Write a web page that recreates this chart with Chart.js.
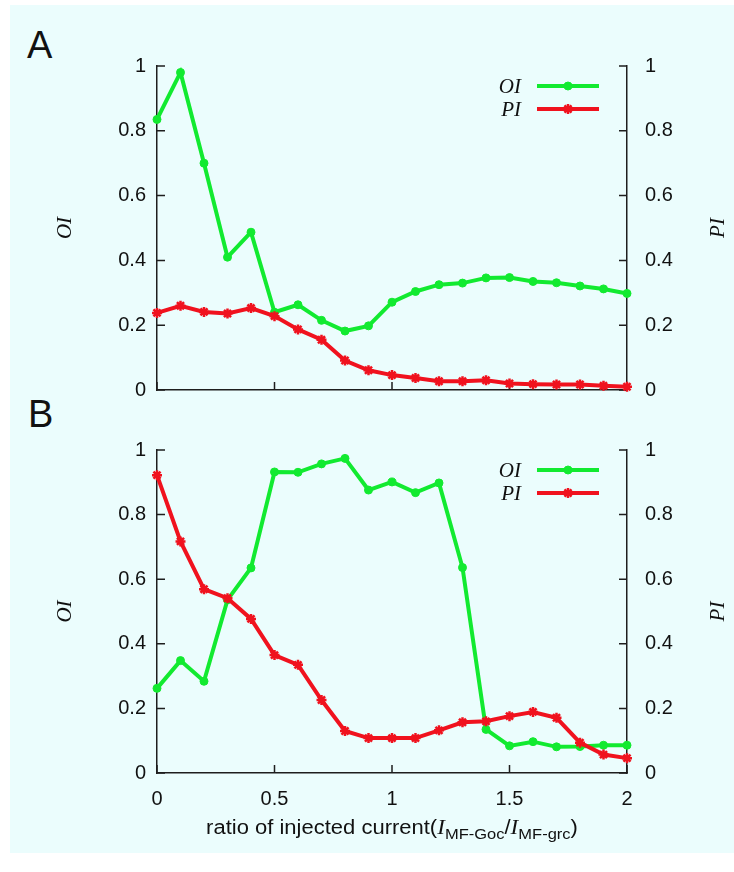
<!DOCTYPE html>
<html>
<head>
<meta charset="utf-8">
<script src="https://cdn.jsdelivr.net/npm/chart.js@4.4.1/dist/chart.umd.min.js"></script>
<style>
  body { margin: 0; background: #fff; }
  #page { position: relative; width: 734px; height: 872px; overflow: hidden; background: #fff; }
  #panel { position: absolute; left: 10px; top: 5px; width: 724px; height: 848px; background: #ebfdfd; }
  canvas { position: absolute; left: 0; }
  #chartA { top: 0; }
  #chartB { top: 420px; }
  .tag { position: absolute; font: 38px/38px "Liberation Sans", Arial, sans-serif; color: #111; }
  #xtitle {
    position: absolute; left: 392px; top: 814px; transform: translateX(-50%) scaleX(1.1);
    white-space: nowrap; font: 20px/26px "Liberation Sans", Arial, sans-serif; color: #111;
  }
  #xtitle i { font-family: "Liberation Serif", serif; font-size: 21px; }
  #xtitle sub { font-size: 15px; vertical-align: -5px; }
</style>
</head>
<body>
<div id="page">
  <div id="panel"></div>
  <div class="tag" style="left:27px; top:26px;">A</div>
  <div class="tag" style="left:28px; top:395px;">B</div>
  <canvas id="chartA" width="734" height="420"></canvas>
  <canvas id="chartB" width="734" height="452"></canvas>
  <div id="xtitle">ratio of injected current(<i>I</i><sub>MF-Goc</sub>/<i>I</i><sub>MF-grc</sub>)</div>
</div>
<script>
// injected current ratio (x) and the two indices for each panel
const ratios = [0, 0.1, 0.2, 0.3, 0.4, 0.5, 0.6, 0.7, 0.8, 0.9, 1.0,
                1.1, 1.2, 1.3, 1.4, 1.5, 1.6, 1.7, 1.8, 1.9, 2.0];

const oiA = [0.835, 0.98, 0.70, 0.41, 0.487, 0.24, 0.263, 0.215, 0.182, 0.198, 0.271,
             0.304, 0.325, 0.330, 0.346, 0.347, 0.335, 0.331, 0.321, 0.312, 0.298];
const piA = [0.238, 0.260, 0.241, 0.236, 0.253, 0.228, 0.187, 0.155, 0.091, 0.061, 0.046,
             0.037, 0.027, 0.027, 0.030, 0.020, 0.018, 0.017, 0.017, 0.013, 0.010];

const oiB = [0.262, 0.348, 0.284, 0.536, 0.635, 0.932, 0.931, 0.957, 0.974, 0.876, 0.901,
             0.868, 0.898, 0.636, 0.135, 0.084, 0.097, 0.081, 0.082, 0.086, 0.086];
const piB = [0.922, 0.717, 0.569, 0.541, 0.477, 0.365, 0.335, 0.226, 0.130, 0.108, 0.108,
             0.108, 0.132, 0.157, 0.160, 0.176, 0.189, 0.171, 0.094, 0.057, 0.046];

const xTicks = [0, 0.5, 1, 1.5, 2];
const yTicks = [0, 0.2, 0.4, 0.6, 0.8, 1];

const GREEN = '#12ea30';
const RED = '#f0121e';
const AXIS = '#1e1e1e';
const TICK_LEN = 8;
const tickFont = { family: '"Liberation Sans", Arial, sans-serif', size: 20 };
const italicSerif = 'italic 21px "Liberation Serif", "Times New Roman", serif';

// plain numbers: 1 rather than 1.0
const plainTick = v => String(Math.round(v * 10) / 10);

// gnuplot-style ticks pointing into the plot area
const inwardTicks = {
    id: 'inwardTicks',
    beforeDatasetsDraw(chart) {
        const { ctx, chartArea: a, scales } = chart;
        ctx.save();
        ctx.strokeStyle = AXIS;
        ctx.lineWidth = 1.5;
        ctx.beginPath();
        scales.y.ticks.forEach(t => {
            const py = scales.y.getPixelForValue(t.value);
            ctx.moveTo(a.left, py);
            ctx.lineTo(a.left + TICK_LEN, py);
        });
        scales.y2.ticks.forEach(t => {
            const py = scales.y2.getPixelForValue(t.value);
            ctx.moveTo(a.right, py);
            ctx.lineTo(a.right - TICK_LEN, py);
        });
        scales.x.ticks.forEach(t => {
            const px = scales.x.getPixelForValue(t.value);
            ctx.moveTo(px, a.bottom);
            ctx.lineTo(px, a.bottom - TICK_LEN);
        });
        ctx.stroke();
        ctx.restore();
    }
};

// rotated axis titles and the key (label, then line with marker)
const keyAndTitles = {
    id: 'keyAndTitles',
    afterDraw(chart) {
        const { ctx, chartArea: a } = chart;
        const sets = chart.data.datasets;
        const midY = (a.top + a.bottom) / 2;
        ctx.save();
        ctx.fillStyle = '#111';
        ctx.font = italicSerif;
        ctx.textAlign = 'center';
        ctx.textBaseline = 'middle';
        [[a.left - 92, sets[0].label], [a.right + 91, sets[1].label]].forEach(([tx, txt]) => {
            ctx.save();
            ctx.translate(tx, midY);
            ctx.rotate(-Math.PI / 2);
            ctx.fillText(txt, 0, 0);
            ctx.restore();
        });

        sets.forEach((ds, i) => {
            const ky = a.top + 20 + i * 23;
            ctx.fillStyle = '#111';
            ctx.textAlign = 'right';
            ctx.fillText(ds.label, a.right - 106, ky + 1);
            ctx.strokeStyle = ds.borderColor;
            ctx.lineWidth = ds.borderWidth;
            ctx.beginPath();
            ctx.moveTo(a.right - 90, ky);
            ctx.lineTo(a.right - 28, ky);
            ctx.stroke();
            ctx.fillStyle = ds.pointBackgroundColor;
            ctx.strokeStyle = ds.pointBorderColor;
            ctx.lineWidth = ds.pointBorderWidth;
            Chart.helpers.drawPoint(ctx, {
                pointStyle: ds.pointStyle, radius: ds.pointRadius,
                borderWidth: ds.pointBorderWidth, rotation: 0
            }, a.right - 59, ky);
        });
        ctx.restore();
    }
};

function series(label, values, color, style, axis, order) {
    return {
        label: label,
        data: ratios.map((r, i) => ({ x: r, y: values[i] })),
        yAxisID: axis,
        order: order,
        borderColor: color,
        backgroundColor: color,
        borderWidth: 4,
        tension: 0,
        pointStyle: style,
        pointRadius: style === 'circle' ? 4 : 5,
        pointBackgroundColor: color,
        pointBorderColor: color,
        pointBorderWidth: style === 'circle' ? 1 : 2.5,
        clip: false
    };
}

function valueAxis(position, width, pad) {
    return {
        type: 'linear', position: position, min: 0, max: 1,
        afterFit: s => { s.width = width; },
        afterBuildTicks: s => { s.ticks = yTicks.map(v => ({ value: v })); },
        grid: { display: false, drawTicks: false },
        border: { display: true, color: AXIS, width: 1.5 },
        ticks: { padding: pad, font: tickFont, color: '#111', callback: plainTick }
    };
}

function makePanel(id, oi, pi, padTop, xHeight, showXLabels) {
    return new Chart(document.getElementById(id), {
        type: 'line',
        data: {
            datasets: [
                series('OI', oi, GREEN, 'circle', 'y', 1),
                series('PI', pi, RED, 'star', 'y2', 0)
            ]
        },
        options: {
            responsive: false,
            animation: false,
            devicePixelRatio: 1,
            layout: { padding: { top: padTop, left: 0, right: 0, bottom: 0 } },
            plugins: { legend: { display: false }, tooltip: { enabled: false } },
            scales: {
                x: {
                    type: 'linear', position: 'bottom', min: 0, max: 2,
                    afterFit: s => { s.height = xHeight; },
                    afterBuildTicks: s => { s.ticks = xTicks.map(v => ({ value: v })); },
                    grid: { display: false, drawTicks: false },
                    border: { display: true, color: AXIS, width: 1.5 },
                    ticks: {
                        display: showXLabels, padding: 14, maxRotation: 0,
                        font: tickFont, color: '#111', callback: plainTick
                    }
                },
                y: valueAxis('left', 157, 11),
                y2: valueAxis('right', 107, 18)
            }
        },
        plugins: [inwardTicks, keyAndTitles]
    });
}

makePanel('chartA', oiA, piA, 66, 25, false);
makePanel('chartB', oiB, piB, 24, 99, true);
</script>
</body>
</html>
